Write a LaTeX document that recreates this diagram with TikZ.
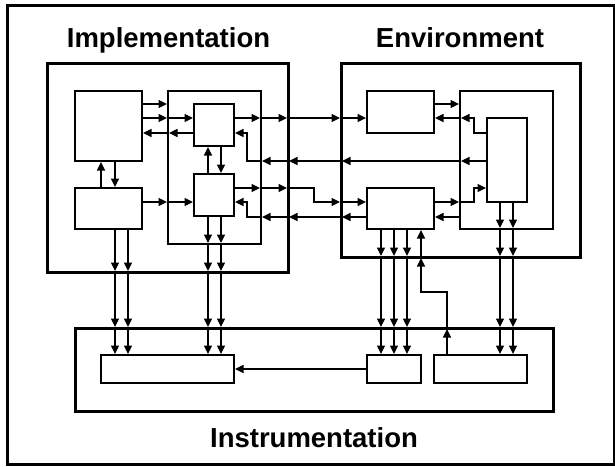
\documentclass[tikz,border=0pt]{standalone}
\usepackage{fontspec}
\setmainfont{Liberation Sans}
\usetikzlibrary{arrows.meta,fit}
\begin{document}
\begin{tikzpicture}[x=1pt,y=-1pt,
  outerbox/.style={draw,line width=3pt,inner sep=0pt,outer sep=0pt},
  innerbox/.style={draw,line width=2pt,inner sep=0pt,outer sep=0pt},
  arr/.style={line width=1.1pt,shorten >=1pt,-{Triangle[length=8.5pt,width=8pt]}},
  title/.style={font=\fontsize{27.5}{30}\selectfont\bfseries,anchor=base,inner sep=0pt}]
\useasboundingbox (0,0) rectangle (615,466);
\draw[line width=3pt] (7.5,5.5) rectangle (614,464.5);
% titles
\node[title] (t1) at (168.5,47) {Implementation};
\node[title] (t2) at (460,47) {Environment};
\node[title] (t3) at (314,447) {Instrumentation};
% boxes
\node[outerbox,fit={(47,63)(288,272)}] (Impl) {};
\node[innerbox,fit={(75,91)(142,161)}] (A) {};
\node[innerbox,fit={(75,188)(142,229)}] (B) {};
\node[innerbox,fit={(168,91)(261,244)}] (C) {};
\node[innerbox,fit={(194,104)(234,146)}] (D) {};
\node[innerbox,fit={(194,174)(234,216)}] (E) {};
\node[outerbox,fit={(341,63)(580,257)}] (Env) {};
\node[innerbox,fit={(367,91)(434,133)}] (F) {};
\node[innerbox,fit={(460,91)(553,229)}] (G) {};
\node[innerbox,fit={(487,118)(527,202)}] (H) {};
\node[innerbox,fit={(367,188)(434,229)}] (I) {};
\node[outerbox,fit={(75,328)(553,411)}] (Instr) {};
\node[innerbox,fit={(101,355)(234,383)}] (J) {};
\node[innerbox,fit={(367,355)(421,383)}] (K) {};
\node[innerbox,fit={(434,355)(527,383)}] (L) {};
% levels
\coordinate (h1) at (0,104);
\coordinate (h2) at (0,118);
\coordinate (h3) at (0,133);
\coordinate (h4) at (0,161);
\coordinate (h5) at (0,188);
\coordinate (h6) at (0,202);
\coordinate (h7) at (0,217);
\coordinate (v101) at (101,0);
\coordinate (v115) at (115,0);
\coordinate (v208) at (208,0);
\coordinate (v221) at (221,0);
\coordinate (v247) at (247,0);
\coordinate (v314) at (314,0);
\coordinate (v421) at (421,0);
\coordinate (v447) at (447,0);
\coordinate (v474) at (474,0);
\coordinate (e292) at (421,292);
% implementation internals
\draw[arr] (A.east|-h1) -- (C.west|-h1);
\draw[arr] (A.east|-h2) -- (C.west|-h2);
\draw[arr] (C.west|-h2) -- (D.west|-h2);
\draw[arr] (D.west|-h3) -- (C.west|-h3);
\draw[arr] (C.west|-h3) -- (A.east|-h3);
\draw[arr] (A.south-|v115) -- (B.north-|v115);
\draw[arr] (B.north-|v101) -- (A.south-|v101);
\draw[arr] (B.east|-h6) -- (C.west|-h6);
\draw[arr] (C.west|-h6) -- (E.west|-h6);
\draw[arr] (D.south-|v221) -- (E.north-|v221);
\draw[arr] (E.north-|v208) -- (D.south-|v208);
% D -> F
\draw[arr] (D.east|-h2) -- (C.east|-h2);
\draw[arr] (C.east|-h2) -- (Impl.east|-h2);
\draw[arr] (Impl.east|-h2) -- (Env.west|-h2);
\draw[arr] (Env.west|-h2) -- (F.west|-h2);
% H -> D
\draw[arr] (H.west|-h4) -- (G.west|-h4);
\draw[arr] (G.west|-h4) -- (Env.west|-h4);
\draw[arr] (Env.west|-h4) -- (Impl.east|-h4);
\draw[arr] (Impl.east|-h4) -- (C.east|-h4);
\draw[arr] (C.east|-h4) -| (v247|-h3) -- (D.east|-h3);
% E -> I
\draw[arr] (E.east|-h5) -- (C.east|-h5);
\draw[arr] (C.east|-h5) -- (Impl.east|-h5);
\draw[arr] (Impl.east|-h5) -| (v314|-h6) -- (Env.west|-h6);
\draw[arr] (Env.west|-h6) -- (I.west|-h6);
% I -> E
\draw[arr] (I.west|-h7) -- (Env.west|-h7);
\draw[arr] (Env.west|-h7) -- (Impl.east|-h7);
\draw[arr] (Impl.east|-h7) -- (C.east|-h7);
\draw[arr] (C.east|-h7) -| (v247|-h6) -- (E.east|-h6);
% environment internals
\draw[arr] (F.east|-h1) -- (G.west|-h1);
\draw[arr] (H.west|-h3) -| (v474|-h2) -- (G.west|-h2);
\draw[arr] (G.west|-h2) -- (F.east|-h2);
\draw[arr] (I.east|-h6) -- (G.west|-h6);
\draw[arr] (G.west|-h6) -| (v474|-h5) -- (H.west|-h5);
\draw[arr] (G.west|-h7) -- (I.east|-h7);
% vertical chains
\foreach \v in {115,128}{
  \coordinate (t) at (\v,0);
  \draw[arr] (B.south-|t) -- (Impl.south-|t);
  \draw[arr] (Impl.south-|t) -- (Instr.north-|t);
  \draw[arr] (Instr.north-|t) -- (J.north-|t);
}
\foreach \v in {208,221}{
  \coordinate (t) at (\v,0);
  \draw[arr] (E.south-|t) -- (C.south-|t);
  \draw[arr] (C.south-|t) -- (Impl.south-|t);
  \draw[arr] (Impl.south-|t) -- (Instr.north-|t);
  \draw[arr] (Instr.north-|t) -- (J.north-|t);
}
\foreach \v in {381,394,407}{
  \coordinate (t) at (\v,0);
  \draw[arr] (I.south-|t) -- (Env.south-|t);
  \draw[arr] (Env.south-|t) -- (Instr.north-|t);
  \draw[arr] (Instr.north-|t) -- (K.north-|t);
}
\foreach \v in {500,513}{
  \coordinate (t) at (\v,0);
  \draw[arr] (H.south-|t) -- (G.south-|t);
  \draw[arr] (G.south-|t) -- (Env.south-|t);
  \draw[arr] (Env.south-|t) -- (Instr.north-|t);
  \draw[arr] (Instr.north-|t) -- (L.north-|t);
}
% L -> I
\draw[arr] (L.north-|v447) -- (Instr.north-|v447);
\draw[arr] (Instr.north-|v447) |- (e292) -- (Env.south-|v421);
\draw[arr] (Env.south-|v421) -- (I.south-|v421);
% K -> J
\draw[arr] (K.west) -- (J.east);
\end{tikzpicture}
\end{document}
